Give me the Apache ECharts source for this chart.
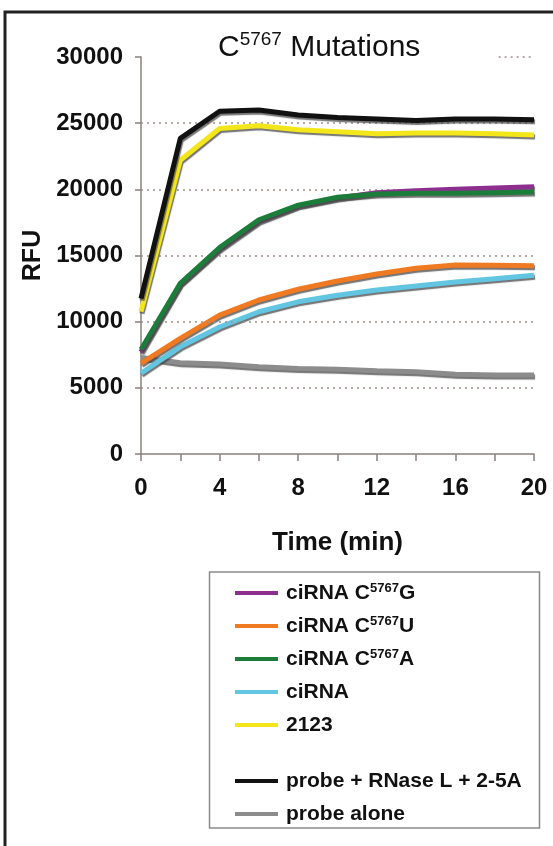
<!DOCTYPE html>
<html>
<head>
<meta charset="utf-8">
<script src="https://cdn.jsdelivr.net/npm/echarts@6/dist/echarts.min.js"></script>
<style>
html,body{margin:0;padding:0;background:#fff;}
#chart{width:553px;height:846px;}
</style>
</head>
<body>
<div id="chart"></div>
<script>
// ---- data ----
var times = [0, 2, 4, 6, 8, 10, 12, 14, 16, 18, 20];
var ciRNA_G = [7700, 12850, 15500, 17600, 18750, 19350, 19750, 19900, 20000, 20100, 20200];
var ciRNA_U = [6850, 8740, 10500, 11640, 12450, 13070, 13600, 14030, 14280, 14260, 14230];
var ciRNA_A = [7900, 12900, 15600, 17700, 18800, 19400, 19650, 19700, 19700, 19750, 19800];
var ciRNA = [6100, 8100, 9600, 10750, 11500, 12000, 12400, 12700, 13000, 13250, 13500];
var s2123 = [10750, 22200, 24600, 24800, 24500, 24350, 24200, 24250, 24250, 24200, 24100];
var probeRNaseL = [11750, 23850, 25900, 26000, 25620, 25420, 25320, 25200, 25320, 25320, 25250];
var probeAlone = [7300, 6900, 6800, 6600, 6470, 6400, 6300, 6220, 6020, 5970, 5970];
var gridValues = [5000, 10000, 15000, 20000, 25000];
var topGridSegment = [18.2, 20]; // partial dotted line at 30000
var yTicks = {min: 0, max: 30000, step: 5000};
var xTicks = {min: 0, max: 20, step: 2, labelStep: 4};

var names = {
  G: 'ciRNA C5767G',
  U: 'ciRNA C5767U',
  A: 'ciRNA C5767A',
  c: 'ciRNA',
  y: '2123',
  b: 'probe + RNase L + 2-5A',
  g: 'probe alone'
};
var colors = {
  G: '#8e2f8f', U: '#f07a21', A: '#1c7d3b', c: '#62c6e2',
  y: '#f3e61a', b: '#111111', g: '#8c8c8c'
};

function pairs(arr) { return times.map(function (t, i) { return [t, arr[i]]; }); }

var FONT = '"Liberation Sans", Arial, Helvetica, sans-serif';

function mkSeries(key, arr, extra) {
  var s = {
    name: names[key], type: 'line', data: pairs(arr),
    showSymbol: false, symbol: 'none', smooth: false,
    color: colors[key],
    lineStyle: {width: 5, color: colors[key], shadowColor: 'rgba(70,70,70,0.75)', shadowBlur: 1, shadowOffsetX: 1, shadowOffsetY: 2},
    itemStyle: {color: colors[key]},
    emphasis: {disabled: true},
    silent: true
  };
  if (extra) for (var k in extra) s[k] = extra[k];
  return s;
}

var gridLineStyle = {type: [2, 4], color: '#a0908c', width: 1.5};
var markData = gridValues.map(function (v) { return {yAxis: v}; });
markData.push([{coord: [topGridSegment[0], yTicks.max]}, {coord: [topGridSegment[1], yTicks.max]}]);

var series = [
  mkSeries('g', probeAlone, {
    z: 2,
    markLine: {silent: true, symbol: ['none', 'none'], label: {show: false}, lineStyle: gridLineStyle, animation: false, data: markData}
  }),
  mkSeries('c', ciRNA, {z: 3}),
  mkSeries('U', ciRNA_U, {z: 4}),
  mkSeries('G', ciRNA_G, {z: 5}),
  mkSeries('A', ciRNA_A, {z: 6}),
  mkSeries('y', s2123, {z: 7}),
  mkSeries('b', probeRNaseL, {z: 8})
];

var supRich = {
  n: {fontSize: 21, fontWeight: 'bold', fontFamily: FONT, color: '#111', lineHeight: 22},
  s: {fontSize: 13, fontWeight: 'bold', fontFamily: FONT, color: '#111', verticalAlign: 'top', lineHeight: 22, padding: [0, 0, 0, 0]}
};
function legendFmt(name) {
  var m = name.match(/^(.*C)(5767)(.)$/);
  if (m) return '{n|' + m[1] + '}{s|' + m[2] + '}{n|' + m[3] + '}';
  return '{n|' + name + '}';
}
var legendCommon = {
  orient: 'vertical', left: 230, itemWidth: 43, itemHeight: 4, itemGap: 11,
  icon: 'rect', selectedMode: false,
  formatter: legendFmt,
  textStyle: {fontSize: 21, fontWeight: 'bold', fontFamily: FONT, color: '#111', lineHeight: 22, padding: [0, 0, 0, 3], rich: supRich}
};

var option = {
  animation: false,
  backgroundColor: '#fff',
  title: {
    text: '{a|C}{s|5767}{a| Mutations}',
    left: 213, top: 25,
    textStyle: {
      rich: {
        a: {fontSize: 30, fontWeight: 'normal', fontFamily: FONT, color: '#111', lineHeight: 35},
        s: {fontSize: 19, fontWeight: 'normal', fontFamily: FONT, color: '#111', verticalAlign: 'top', lineHeight: 35}
      }
    }
  },
  grid: {left: 141, right: 19, top: 57, bottom: 392, containLabel: false},
  xAxis: {
    type: 'value', min: xTicks.min, max: xTicks.max, interval: xTicks.step,
    name: 'Time (min)', nameLocation: 'middle', nameGap: 76,
    nameTextStyle: {fontSize: 26, fontWeight: 'bold', fontFamily: FONT, color: '#111'},
    axisLine: {show: true, onZero: false, lineStyle: {color: '#8a807c', width: 1.5}},
    axisTick: {show: true, length: 7, inside: false, lineStyle: {color: '#8a807c', width: 1.5}},
    axisLabel: {
      margin: 22, fontSize: 24, fontWeight: 'bold', fontFamily: FONT, color: '#111',
      formatter: function (v) { return (v % xTicks.labelStep === 0) ? String(v) : ''; }
    },
    splitLine: {show: false}
  },
  yAxis: {
    type: 'value', min: yTicks.min, max: yTicks.max, interval: yTicks.step,
    name: 'RFU', nameLocation: 'middle', nameGap: 82, nameRotate: 90,
    nameTextStyle: {fontSize: 25, fontWeight: 'bold', fontFamily: FONT, color: '#111'},
    axisLine: {show: true, lineStyle: {color: '#8a807c', width: 1.5}},
    axisTick: {show: true, length: 6, inside: false, lineStyle: {color: '#8a807c', width: 1.5}},
    axisLabel: {margin: 18, fontSize: 24, fontWeight: 'bold', fontFamily: FONT, color: '#111',
      formatter: function (v) { return String(v); }},
    splitLine: {show: false}
  },
  legend: [
    Object.assign({}, legendCommon, {top: 577, data: [names.G, names.U, names.A, names.c, names.y]}),
    Object.assign({}, legendCommon, {top: 765, data: [names.b, names.g]})
  ],
  graphic: [
    {type: 'rect', z: 100, silent: true, shape: {x: 5, y: 12, width: 600, height: 900},
      style: {fill: 'none', stroke: '#222', lineWidth: 3}},
    {type: 'rect', z: 1, silent: true, shape: {x: 209.5, y: 572, width: 330, height: 256},
      style: {fill: '#fff', stroke: '#8a8a8a', lineWidth: 1.5}}
  ],
  series: series
};

var chart = echarts.init(document.getElementById('chart'), null, {renderer: 'canvas'});
chart.setOption(option);
</script>
</body>
</html>
